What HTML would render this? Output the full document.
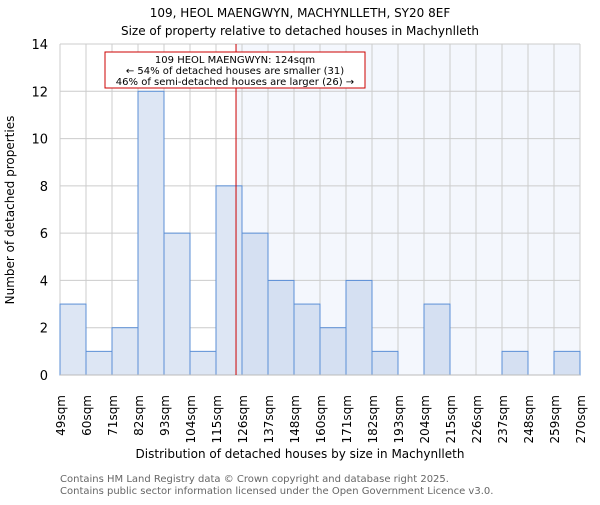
<!DOCTYPE html>
<html><head><meta charset="utf-8"><style>
body{margin:0;background:#fff}
svg text{font-family:"DejaVu Sans","Liberation Sans",sans-serif}
</style></head><body>
<svg id="c" width="600" height="500" xmlns="http://www.w3.org/2000/svg">
<text x="300" y="17" text-anchor="middle" font-size="12">109, HEOL MAENGWYN, MACHYNLLETH, SY20 8EF</text>
<text x="300" y="35" text-anchor="middle" font-size="12">Size of property relative to detached houses in Machynlleth</text>
<g id="plot"></g>
<text x="300" y="458" text-anchor="middle" font-size="12">Distribution of detached houses by size in Machynlleth</text>
<text transform="translate(14,210) rotate(-90)" text-anchor="middle" font-size="12">Number of detached properties</text>
<text x="60" y="482" font-size="10" fill="#666">Contains HM Land Registry data © Crown copyright and database right 2025.</text>
<text x="60" y="494" font-size="10" fill="#666">Contains public sector information licensed under the Open Government Licence v3.0.</text>
</svg>
<script>
const edgeLabels=["49sqm","60sqm","71sqm","82sqm","93sqm","104sqm","115sqm","126sqm","137sqm","148sqm","160sqm","171sqm","182sqm","193sqm","204sqm","215sqm","226sqm","237sqm","248sqm","259sqm","270sqm"];
const counts=[3,1,2,12,6,1,8,6,4,3,2,4,1,0,3,0,0,1,0,1];
const yTicks=[0,2,4,6,8,10,12,14];
const propertyBinPos=6.77;
const NS="http://www.w3.org/2000/svg";
const X0=60,X1=580,Y0=375,Y1=44,yMax=14;
const bw=(X1-X0)/counts.length;
const xs=i=>X0+i*bw;
const ys=v=>Y0-(v/yMax)*(Y0-Y1);
const g=document.getElementById('plot');
function mk(t,a){const e=document.createElementNS(NS,t);for(const k in a)e.setAttribute(k,a[k]);g.appendChild(e);return e;}
const px=xs(propertyBinPos);
let e=mk('rect',{x:px,y:Y1,width:X1-px,height:Y0-Y1,fill:'#f4f7fd'});


edgeLabels.forEach((l,i)=>{
 let gl=mk('line',{x1:xs(i),x2:xs(i),y1:Y1,y2:Y0,stroke:'#cccccc'});
 
 
 let t=mk('text',{transform:`translate(${xs(i)+5},395) rotate(-90)`,'text-anchor':'end','font-size':'12'});
 t.textContent=l;
 
 
});
yTicks.forEach(v=>{
 let gl=mk('line',{x1:X0,x2:X1,y1:ys(v),y2:ys(v),stroke:'#cccccc'});
 
 
 let t=mk('text',{x:X0-12,y:ys(v)+5,'text-anchor':'end','font-size':'13'});
 t.textContent=v;
 
 
});
counts.forEach((c,i)=>{
 if(c<=0)return;
 let r=mk('rect',{x:xs(i),y:ys(c),width:bw,height:Y0-ys(c),fill:(i+0.5<propertyBinPos)?'#dde6f4':'#d5e0f2',stroke:'#5b8fd6','stroke-width':1});
 
 
});
let ax=mk('line',{x1:X0,x2:X1,y1:Y0,y2:Y0,stroke:'#bbbbbb'});


let rl=mk('line',{x1:px,x2:px,y1:Y1,y2:Y0,stroke:'#cc0000','stroke-width':1});


let box=mk('rect',{x:105,y:52,width:260,height:36,fill:'#fff',stroke:'#cc0000'});


["109 HEOL MAENGWYN: 124sqm","← 54% of detached houses are smaller (31)","46% of semi-detached houses are larger (26) →"].forEach((s,k)=>{
 let t=mk('text',{x:235,y:63+k*11,'text-anchor':'middle','font-size':'10'});
 t.textContent=s;
 
 
});
</script>
</body></html>
